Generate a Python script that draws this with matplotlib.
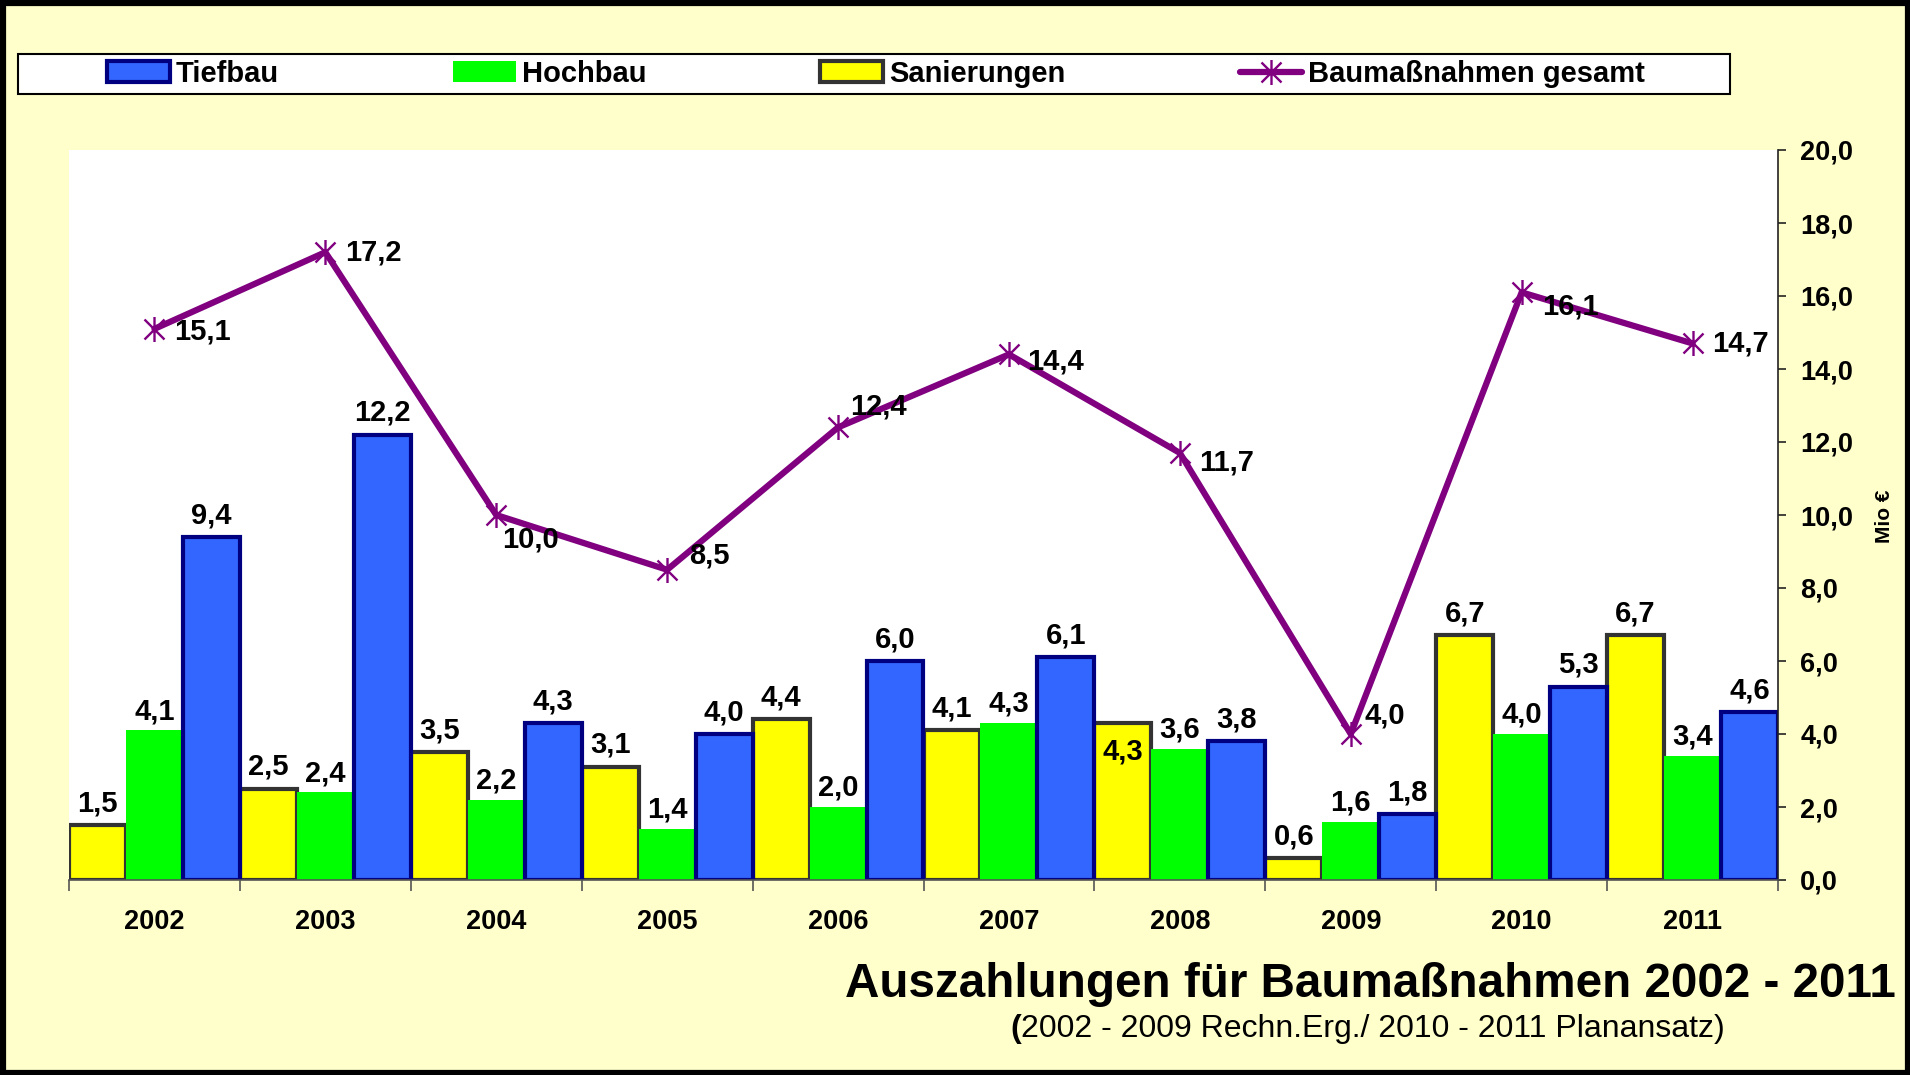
import matplotlib
matplotlib.use("Agg")
import matplotlib.pyplot as plt
from matplotlib.patches import Rectangle, Patch
from matplotlib.lines import Line2D
from matplotlib.path import Path
import numpy as np

plt.rcParams['font.family'] = ['Liberation Sans', 'DejaVu Sans']

years = ["2002", "2003", "2004", "2005", "2006", "2007", "2008", "2009", "2010", "2011"]
sanierungen = [1.5, 2.5, 3.5, 3.1, 4.4, 4.1, 4.3, 0.6, 6.7, 6.7]
hochbau = [4.1, 2.4, 2.2, 1.4, 2.0, 4.3, 3.6, 1.6, 4.0, 3.4]
tiefbau = [9.4, 12.2, 4.3, 4.0, 6.0, 6.1, 3.8, 1.8, 5.3, 4.6]
gesamt = [15.1, 17.2, 10.0, 8.5, 12.4, 14.4, 11.7, 4.0, 16.1, 14.7]

yticks = [0, 2, 4, 6, 8, 10, 12, 14, 16, 18, 20]

# label offsets (points) for the total line labels
line_lab_dx = [14, 14, 4, 16, 9, 13, 14, 10, 15, 14]
line_lab_dy = [-2, 0, -18, 10, 15, -5, -7, 13, -10, 0]
# label offsets for Sanierungen (one label sits inside the bar)
san_lab_dy = [10, 10, 10, 10, 10, 10, -26, 10, 10, 10]

W, H = 1910, 1075
fig = plt.figure(figsize=(W / 100, H / 100), dpi=100)
fig.patch.set_facecolor('#FFFFCC')

def fx(px):
    return px / W

def fy(py):
    return 1 - py / H

ax_l, ax_r, ax_t, ax_b = 69, 1778, 150, 880
ax = fig.add_axes([fx(ax_l), fy(ax_b), fx(ax_r - ax_l), (ax_b - ax_t) / H])
ax.set_facecolor('white')

x = np.arange(len(years))
bw = 1 / 3
YELLOW, GREEN, BLUE, NAVY, DGRAY, PURPLE = '#FFFF00', '#00FF00', '#3366FF', '#000080', '#333333', '#800080'

ax.bar(x - bw, sanierungen, width=bw, color=YELLOW, edgecolor=DGRAY, linewidth=3, zorder=2)
ax.bar(x, hochbau, width=bw, color=GREEN, edgecolor='none', linewidth=0, zorder=2)
ax.bar(x + bw, tiefbau, width=bw, color=BLUE, edgecolor=NAVY, linewidth=3, zorder=2)

# asterisk marker: x plus vertical bar
star = Path([(-1, -1), (1, 1), (-1, 1), (1, -1), (0, -1.25), (0, 1.25)],
            [Path.MOVETO, Path.LINETO, Path.MOVETO, Path.LINETO, Path.MOVETO, Path.LINETO])

ax.plot(x, gesamt, color=PURPLE, linewidth=4.5, zorder=4, solid_capstyle='round')
ax.plot(x, gesamt, linestyle='none', marker=star, markersize=18, markeredgecolor=PURPLE,
        markerfacecolor='none', markeredgewidth=1.7, zorder=5)

lab_kw = dict(fontsize=21, fontweight='bold', color='black', textcoords='offset points', zorder=6)

def fmt(v):
    return f"{v:.1f}".replace('.', ',')

for i in range(len(years)):
    ax.annotate(fmt(sanierungen[i]), (x[i] - bw, sanierungen[i]), xytext=(0, san_lab_dy[i]),
                ha='center', va='baseline', **lab_kw)
    ax.annotate(fmt(hochbau[i]), (x[i], hochbau[i]), xytext=(0, 8),
                ha='center', va='baseline', **lab_kw)
    ax.annotate(fmt(tiefbau[i]), (x[i] + bw, tiefbau[i]), xytext=(0, 10),
                ha='center', va='baseline', **lab_kw)
    ax.annotate(fmt(gesamt[i]), (x[i], gesamt[i]), xytext=(line_lab_dx[i], line_lab_dy[i]),
                ha='left', va='center', **lab_kw)

ax.set_xlim(-0.5, len(years) - 0.5)
ax.set_ylim(0, 20)

# axes styling
for s in ['left', 'top']:
    ax.spines[s].set_visible(False)
ax.spines['right'].set_color('#222222')
ax.spines['right'].set_linewidth(1.2)
ax.spines['bottom'].set_color('#555555')
ax.spines['bottom'].set_linewidth(1.2)

ax.yaxis.tick_right()
ax.set_yticks(yticks)
ax.set_yticklabels([fmt(v) for v in yticks], fontsize=19.5, fontweight='bold')
ax.tick_params(axis='y', which='major', direction='out', length=6, width=1.2, color='#222222', pad=10)

ax.set_xticks(np.arange(len(years) + 1) - 0.5)
ax.set_xticklabels([])
ax.set_xticks(x, minor=True)
ax.set_xticklabels(years, minor=True, fontsize=19.5, fontweight='bold')
ax.tick_params(axis='x', which='major', direction='out', length=8, width=1.2, color='#555555')
ax.tick_params(axis='x', which='minor', length=0, pad=21)

fig.text(fx(1884), fy(516), "Mio €", rotation=90, ha='center', va='center', fontsize=15, fontweight='bold')

# legend frame + legend
fig.patches.append(Rectangle((fx(18), fy(94)), fx(1730 - 18), (94 - 54) / H, transform=fig.transFigure,
                             facecolor='white', edgecolor='black', linewidth=1.5, zorder=1))
handles = [
    Patch(facecolor=BLUE, edgecolor=NAVY, linewidth=3),
    Patch(facecolor=GREEN, edgecolor='none'),
    Patch(facecolor=YELLOW, edgecolor=DGRAY, linewidth=3),
    Line2D([0], [0], color=PURPLE, linewidth=4.5, marker=star, markersize=18,
           markeredgecolor=PURPLE, markerfacecolor='none', markeredgewidth=1.7, solid_capstyle='round'),
]
labels = ["Tiefbau", "Hochbau", "Sanierungen", "Baumaßnahmen gesamt"]
leg = fig.legend(handles, labels, loc='center left', ncol=4, mode='expand',
                 bbox_to_anchor=(fx(107), fy(92), fx(1645 - 107), 36 / H),
                 frameon=False, borderaxespad=0, borderpad=0,
                 handlelength=2.15, handleheight=0.72, handletextpad=0.2,
                 prop={'size': 21, 'weight': 'bold'})
leg.set_zorder(3)

# titles
fig.text(fx(1896), fy(997), "Auszahlungen für Baumaßnahmen 2002 - 2011", ha='right', va='baseline',
         fontsize=34.3, fontweight='bold')
sub = fig.text(fx(1725), fy(1037), "2002 - 2009 Rechn.Erg./ 2010 - 2011 Planansatz)", ha='right',
               va='baseline', fontsize=23)
ax.annotate("(", xy=(0, 0), xycoords=sub, ha='right', va='bottom', fontsize=23, fontweight='bold',
            annotation_clip=False)

# outer border
fig.patches.append(Rectangle((0, 0), 1, 1, transform=fig.transFigure, fill=False,
                             edgecolor='black', linewidth=8, zorder=10))
fig.patches.append(Rectangle((0, 0), 1, 1, transform=fig.transFigure, fill=False,
                             edgecolor='black', linewidth=8, zorder=10))

fig.savefig("out.png", dpi=100, facecolor=fig.get_facecolor())
